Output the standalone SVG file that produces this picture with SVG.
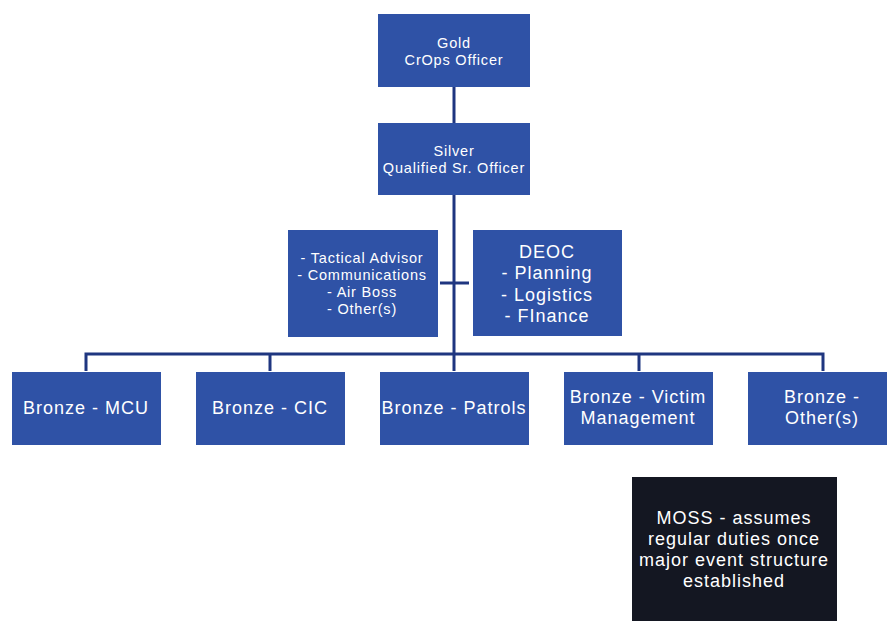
<svg xmlns="http://www.w3.org/2000/svg" width="887" height="621" viewBox="0 0 887 621">
  <style>
    .box { fill: #2f52a6; }
    .dark { fill: #141722; }
    .lbl { fill: #ffffff; font-family: "Liberation Sans", Arial, sans-serif; text-anchor: middle; dominant-baseline: central; }
    .sm { font-size: 14.5px; letter-spacing: 0.8px; }
    .lg { font-size: 18px; letter-spacing: 1px; }
    .conn { stroke: #1f3680; stroke-width: 3; fill: none; }
  </style>
  <rect width="887" height="621" fill="#ffffff"/>

  <!-- connectors -->
  <g id="connectors">
    <line class="conn" x1="454" y1="87" x2="454" y2="123"/>
    <line class="conn" x1="454" y1="195" x2="454" y2="354"/>
    <line class="conn" x1="440" y1="283" x2="469" y2="283"/>
    <polyline class="conn" points="86,371 86,354 823,354 823,371"/>
    <line class="conn" x1="270" y1="354" x2="270" y2="371"/>
    <line class="conn" x1="454" y1="354" x2="454" y2="371"/>
    <line class="conn" x1="639" y1="354" x2="639" y2="371"/>
  </g>

  <g id="gold">
    <rect class="box" x="378" y="14" width="152" height="73"/>
    <text class="lbl sm" x="454" y="43">Gold</text>
    <text class="lbl sm" x="454" y="60">CrOps Officer</text>
  </g>

  <g id="silver">
    <rect class="box" x="378" y="123" width="152" height="72"/>
    <text class="lbl sm" x="454" y="151">Silver</text>
    <text class="lbl sm" x="454" y="168">Qualified Sr. Officer</text>
  </g>

  <g id="advisors">
    <rect class="box" x="288" y="230" width="150" height="107"/>
    <text class="lbl sm" x="362" y="258">- Tactical Advisor</text>
    <text class="lbl sm" x="362" y="275">- Communications</text>
    <text class="lbl sm" x="362" y="292">- Air Boss</text>
    <text class="lbl sm" x="362" y="309">- Other(s)</text>
  </g>

  <g id="deoc">
    <rect class="box" x="473" y="230" width="149" height="106"/>
    <text class="lbl lg" x="547" y="252">DEOC</text>
    <text class="lbl lg" x="547" y="273">- Planning</text>
    <text class="lbl lg" x="547" y="295">- Logistics</text>
    <text class="lbl lg" x="547" y="316">- FInance</text>
  </g>

  <g id="bronze-mcu">
    <rect class="box" x="12" y="372" width="149" height="73"/>
    <text class="lbl lg" x="86" y="408">Bronze - MCU</text>
  </g>

  <g id="bronze-cic">
    <rect class="box" x="196" y="372" width="149" height="73"/>
    <text class="lbl lg" x="270" y="408">Bronze - CIC</text>
  </g>

  <g id="bronze-patrols">
    <rect class="box" x="380" y="372" width="149" height="73"/>
    <text class="lbl lg" x="454" y="408">Bronze - Patrols</text>
  </g>

  <g id="bronze-victim">
    <rect class="box" x="564" y="372" width="149" height="73"/>
    <text class="lbl lg" x="638" y="397">Bronze - Victim</text>
    <text class="lbl lg" x="638" y="418">Management</text>
  </g>

  <g id="bronze-other">
    <rect class="box" x="748" y="372" width="149" height="73"/>
    <text class="lbl lg" x="822" y="397">Bronze -</text>
    <text class="lbl lg" x="822" y="418">Other(s)</text>
  </g>

  <g id="moss">
    <rect class="dark" x="632" y="477" width="205" height="150"/>
    <text class="lbl lg" x="734" y="518">MOSS - assumes</text>
    <text class="lbl lg" x="734" y="539">regular duties once</text>
    <text class="lbl lg" x="734" y="560">major event structure</text>
    <text class="lbl lg" x="734" y="581">established</text>
  </g>
</svg>
